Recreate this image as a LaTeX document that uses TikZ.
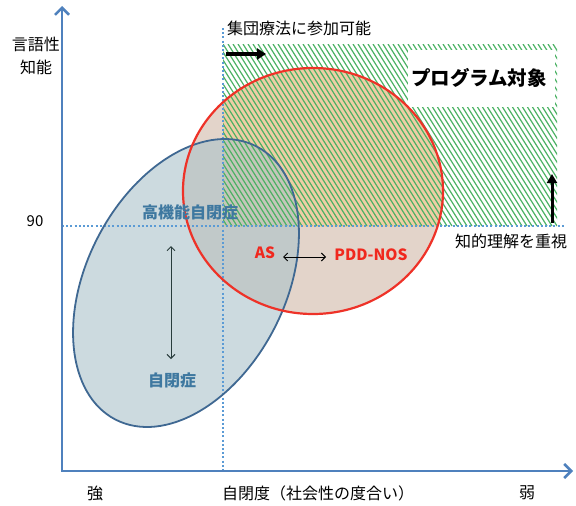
\documentclass[tikz,border=0pt]{standalone}
\usepackage{fontspec}
\setmainfont{Noto Sans CJK JP}
\usetikzlibrary{arrows.meta}
\definecolor{axisblue}{RGB}{79,129,189}
\definecolor{dotblue}{RGB}{91,155,213}
\definecolor{hatchgreen}{RGB}{75,178,100}
\definecolor{ellblue}{RGB}{63,104,146}
\definecolor{ellbluefill}{RGB}{170,193,201}
\definecolor{ellred}{RGB}{238,50,40}
\definecolor{redfill}{RGB}{200,170,150}
\definecolor{orangetint}{RGB}{255,195,110}
\definecolor{labelblue}{RGB}{62,120,160}
\definecolor{labelred}{RGB}{240,40,30}
\definecolor{darkarrow}{RGB}{40,60,60}
\tikzset{
  axisline/.style={axisblue, line width=2.5pt, {Straight Barb[length=7pt,width=14pt]}-{Straight Barb[length=7pt,width=14pt]}},
  dotline/.style={dotblue, line width=2pt, dash pattern=on 2pt off 2.2pt},
  hatchline/.style={hatchgreen, line width=1.2pt},
  txt/.style={font=\fontsize{16}{19}\selectfont, inner sep=0pt},
  bluelabel/.style={font=\fontsize{16}{19}\selectfont\bfseries, text=labelblue, inner sep=0pt},
  redlabel/.style={font=\fontsize{15.5}{18}\selectfont\bfseries, text=labelred, inner sep=0pt},
  bigarrow/.style={black, line width=3.5pt, -{Triangle[length=9pt,width=11pt]}},
  dblarrow/.style={line width=1pt, {Straight Barb[length=4pt,width=8pt]}-{Straight Barb[length=4pt,width=8pt]}}
}
\begin{document}
\begin{tikzpicture}[x=1pt,y=-1pt]
\useasboundingbox (0,0) rectangle (576,506);
% fills
\fill[redfill, opacity=0.5] (313,191) ellipse [x radius=130, y radius=123];
\begin{scope}
  \clip (223,44) rectangle (557,226);
  \fill[orangetint, opacity=0.4] (313,191) ellipse [x radius=130, y radius=123];
\end{scope}
\fill[ellbluefill, opacity=0.6, shift={(186,283)}, rotate=62.7] (0,0) ellipse [x radius=153.7, y radius=99.3];
\begin{scope}
  \clip (223,44) rectangle (557,226);
  \foreach \i in {-120,-115,...,340} \draw[hatchline] (223+\i,44) -- ++(114,182);
\end{scope}
\fill[white] (408,50) rectangle (555,107);
% dotted guides
\coordinate (vtop) at (223,28);
\coordinate (vbot) at (223,470);
\coordinate (hl) at (62,226);
\coordinate (hr) at (565,226);
\draw[dotline] (vtop) -- (vbot);
\draw[dotline] (hl) -- (hr);
% outlines
\draw[ellblue, line width=1.8pt, shift={(186,283)}, rotate=62.7] (0,0) ellipse [x radius=153.7, y radius=99.3];
\draw[ellred, line width=2.2pt] (313,191) ellipse [x radius=130, y radius=123];
% axes
\coordinate (ytip) at (62,6);
\coordinate (O) at (62,471);
\coordinate (xtip) at (573,471);
\draw[axisline] (ytip) -- (O) -- (xtip);
% labels
\node[txt] (yl1) at (36,44) {言語性};
\node[txt] (yl2) at (36,67) {知能};
\node[txt, font=\fontsize{15}{17}\selectfont] (n90) at (35,221) {90};
\node[txt, anchor=west] (group) at (227,28) {集団療法に参加可能};
\node[txt, font=\fontsize{19.5}{22}\selectfont\bfseries] (prog) at (479,78) {プログラム対象};
\node[txt] (chiteki) at (511,241) {知的理解を重視};
\node[bluelabel] (hfa) at (190,212) {高機能自閉症};
\node[bluelabel] (aut) at (172,380) {自閉症};
\node[redlabel] (as) at (265,253) {AS};
\node[redlabel] (pdd) at (371,255) {PDD-NOS};
\node[txt] (strong) at (95,493) {強};
\node[txt] (xlab) at (318,493) {自閉度（社会性の度合い）};
\node[txt] (weak) at (527,493) {弱};
% arrows
\coordinate (a1s) at (226,54);
\coordinate (a1e) at (266,54);
\draw[bigarrow] (a1s) -- (a1e);
\coordinate (a2s) at (552,223);
\coordinate (a2e) at (552,174);
\draw[black, line width=3pt, -{Triangle[length=9pt,width=10pt]}] (a2s) -- (a2e);
\coordinate (d1t) at (171,246);
\coordinate (d1b) at (171,359);
\draw[dblarrow, darkarrow] (d1t) -- (d1b);
\coordinate (d2l) at (283,257);
\coordinate (d2r) at (326,257);
\draw[dblarrow, black] (d2l) -- (d2r);
\end{tikzpicture}
\end{document}
